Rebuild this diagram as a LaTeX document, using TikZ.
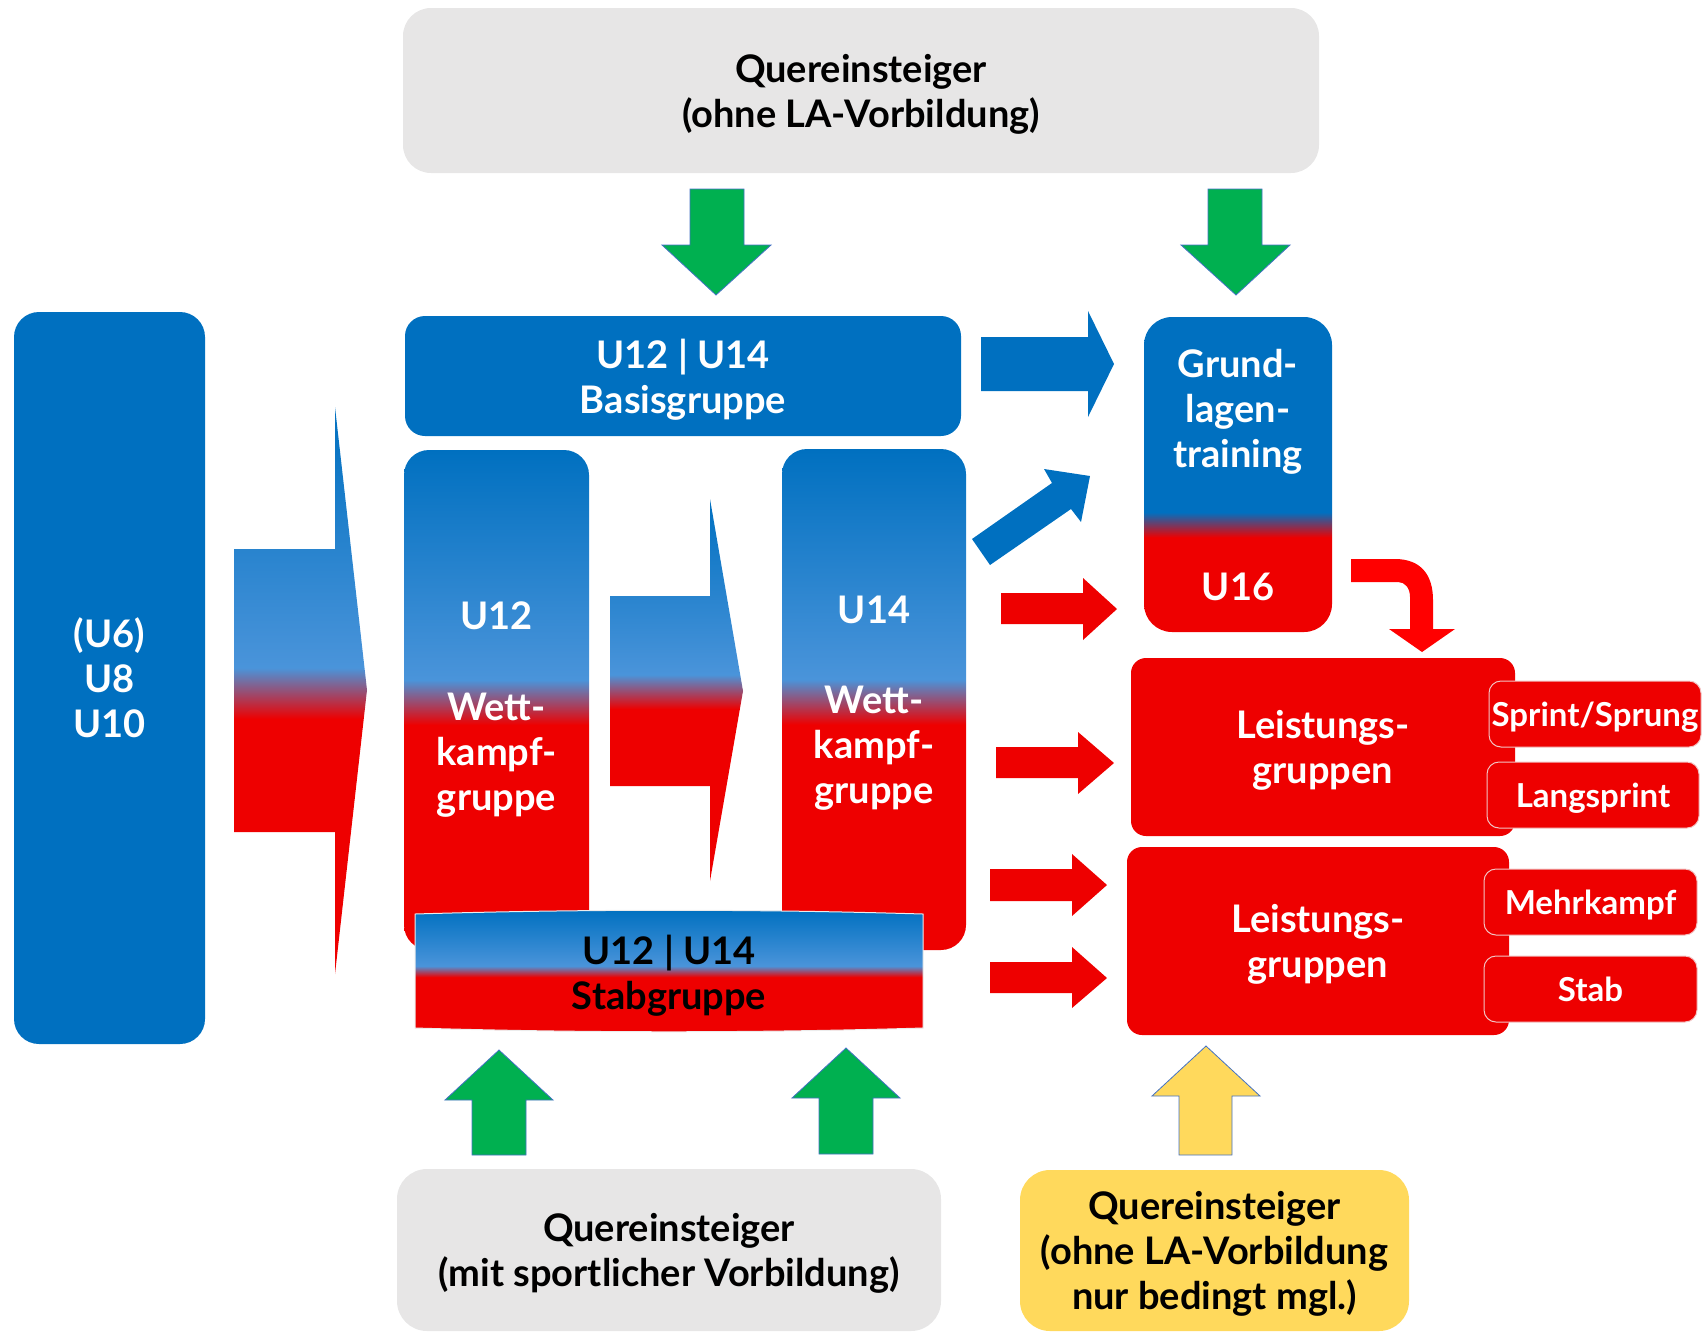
\documentclass[tikz,border=0pt]{standalone}
\usepackage{fontspec}
\setmainfont{Lato}
\usepackage{xcolor}
\usepackage{tikz}
\usetikzlibrary{calc,positioning}

\definecolor{uBlue}{HTML}{0070C0}
\definecolor{lBlue}{HTML}{4A94DA}
\definecolor{uRed}{HTML}{EE0000}
\definecolor{aRed}{HTML}{FF0000}
\definecolor{uGreen}{HTML}{00B050}
\definecolor{uGrey}{HTML}{E7E6E6}
\definecolor{uYellow}{HTML}{FFD95C}
\definecolor{edgeBlue}{HTML}{4472C4}
\definecolor{edgePink}{HTML}{F2C4C4}

% 从上到下: 深蓝 -> 浅蓝 -> 红
\pgfdeclareverticalshading{bluered}{100bp}{color(0bp)=(uRed); color(47.5bp)=(uRed); color(52bp)=(lBlue); color(75bp)=(uBlue); color(100bp)=(uBlue)}
\pgfdeclareverticalshading{bluered2}{100bp}{color(0bp)=(uRed); color(40bp)=(uRed); color(44bp)=(uBlue); color(100bp)=(uBlue)}

\begin{document}
\begin{tikzpicture}[x=1pt,y=-1pt,
  txt/.style={font=\bfseries\fontsize{38}{45}\selectfont, align=center, inner sep=0pt, text depth=0pt},
  box/.style={txt, rounded corners=#1},
  smallbox/.style={rounded corners=12pt, fill=uRed, draw=edgePink, line width=1pt, text=white, inner sep=0pt, text depth=0pt,
    minimum width=212pt, minimum height=66pt, font=\bfseries\fontsize{33}{40}\selectfont},
  greenarrow/.style={fill=uGreen, draw=edgeBlue, line width=0.8pt},
  redarrow/.style={fill=uRed}]
  \useasboundingbox (0,0) rectangle (1702,1334); %整幅图的范围 (像素)

  \node[box=28pt, fill=uGrey, minimum width=916pt, minimum height=165pt] (qtop) at (861,90.5) {Quereinsteiger\\(ohne LA-Vorbildung)};
  \node[box=25pt, fill=uBlue, text=white, minimum width=191pt, minimum height=732pt] (young) at (109.5,678) {(U6)\\U8\\U10};
  \node[box=20pt, fill=uBlue, text=white, minimum width=556pt, minimum height=120pt] (basis) at (683,376) {U12 | U14\\Basisgruppe};
  \node[box=25pt, shade, shading=bluered, minimum width=185pt, minimum height=500pt] (wk12) at (496.5,700) {};
  \node[txt, text=white] (wk12text) at ([yshift=-6.5pt]wk12.center) {U12\\[46pt]Wett-\\kampf-\\gruppe};
  \node[box=25pt, shade, shading=bluered, text=white, minimum width=184pt, minimum height=501pt] (wk14) at (874,699.5) {U14\\[45pt]Wett-\\kampf-\\gruppe};
  \node[box=28pt, shade, shading=bluered2, text=white, minimum width=188pt, minimum height=315pt] (grund) at (1238,474.5) {Grund-\\lagen-\\training\\[88pt]U16};

  % Stabgruppe, oben und unten leicht gewoelbt
  \shade[shading=bluered, draw=white!85!gray, line width=1pt] (415,914) .. controls (584,909) and (754,909) .. (923,914) -- (923,1028) .. controls (754,1033) and (584,1033) .. (415,1028) -- cycle;
  \node[txt] (stab) at (669,972) {U12 | U14\\Stabgruppe};

  \node[box=15pt, fill=uRed, text=white, minimum width=384pt, minimum height=178pt] (leist1) at (1323,747) {Leistungs-\\gruppen};
  \node[box=15pt, fill=uRed, text=white, minimum width=382pt, minimum height=188pt] (leist2) at (1318,941) {Leistungs-\\gruppen};
  \node[smallbox] (sprint) at (1595,714) {Sprint/Sprung};
  \node[smallbox] (lang) at (1593,795) {Langsprint};
  \node[smallbox, minimum width=213pt] (mehr) at (1590.5,902) {Mehrkampf};
  \node[smallbox, minimum width=213pt] (stabsm) at (1590.5,989) {Stab};

  \node[box=30pt, fill=uGrey, minimum width=544pt, minimum height=162pt] (qbot) at (669,1250) {Quereinsteiger\\(mit sportlicher Vorbildung)};
  \node[box=30pt, fill=uYellow, minimum width=389pt, minimum height=161pt] (qyel) at (1214.5,1250.5) {Quereinsteiger\\(ohne LA-Vorbildung\\nur bedingt mgl.)};

  % Blockpfeile
  \shade[shading=bluered] (234,549) -- (335,549) -- (335,407) -- (367,690) -- (335,974) -- (335,832) -- (234,832) -- cycle;
  \shade[shading=bluered] (610,596) -- (710,596) -- (710,499) -- (743,691) -- (710,881) -- (710,786) -- (610,786) -- cycle;

  \filldraw[greenarrow] (690,189) -- (744,189) -- (744,245) -- (771,245) -- (716,295) -- (662,245) -- (690,245) -- cycle;
  \filldraw[greenarrow] (1208,189) -- (1262,189) -- (1262,245) -- (1290,245) -- (1236,295) -- (1181,245) -- (1208,245) -- cycle;
  \filldraw[greenarrow] (472,1155) -- (526,1155) -- (526,1100) -- (553,1100) -- (499,1050) -- (445,1100) -- (472,1100) -- cycle;
  \filldraw[greenarrow] (819,1154) -- (873,1154) -- (873,1098) -- (900,1098) -- (846,1048) -- (792,1098) -- (819,1098) -- cycle;
  \filldraw[fill=uYellow, draw=edgeBlue, line width=0.8pt] (1179,1155) -- (1232,1155) -- (1232,1096) -- (1260,1096) -- (1206,1046) -- (1152,1096) -- (1179,1096) -- cycle;

  \fill[uBlue] (981,337) -- (1088,337) -- (1088,311) -- (1114,364) -- (1088,417) -- (1088,391) -- (981,391) -- cycle;
  \fill[uBlue] (972,539) -- (1052,483) -- (1044,469) -- (1090,476) -- (1081,522) -- (1071,509) -- (990,565) -- cycle;

  \fill[redarrow] (1001,593) -- (1083,593) -- (1083,578) -- (1117,609) -- (1083,640) -- (1083,624) -- (1001,624) -- cycle;
  \fill[redarrow] (996,747) -- (1078,747) -- (1078,732) -- (1114,763) -- (1078,794) -- (1078,778) -- (996,778) -- cycle;
  \fill[redarrow] (990,869) -- (1072,869) -- (1072,854) -- (1107,885) -- (1072,916) -- (1072,901) -- (990,901) -- cycle;
  \fill[redarrow] (990,962) -- (1072,962) -- (1072,947) -- (1107,978) -- (1072,1008) -- (1072,993) -- (990,993) -- cycle;

  \fill[aRed] (1351,559) -- (1395,559) .. controls (1421,559) and (1433,575) .. (1433,600) -- (1433,629) -- (1455,629) -- (1422,652) -- (1389,629) -- (1410,629) -- (1410,597) .. controls (1410,588) and (1405,582) .. (1398,582) -- (1351,582) -- cycle;
\end{tikzpicture}
\end{document}
